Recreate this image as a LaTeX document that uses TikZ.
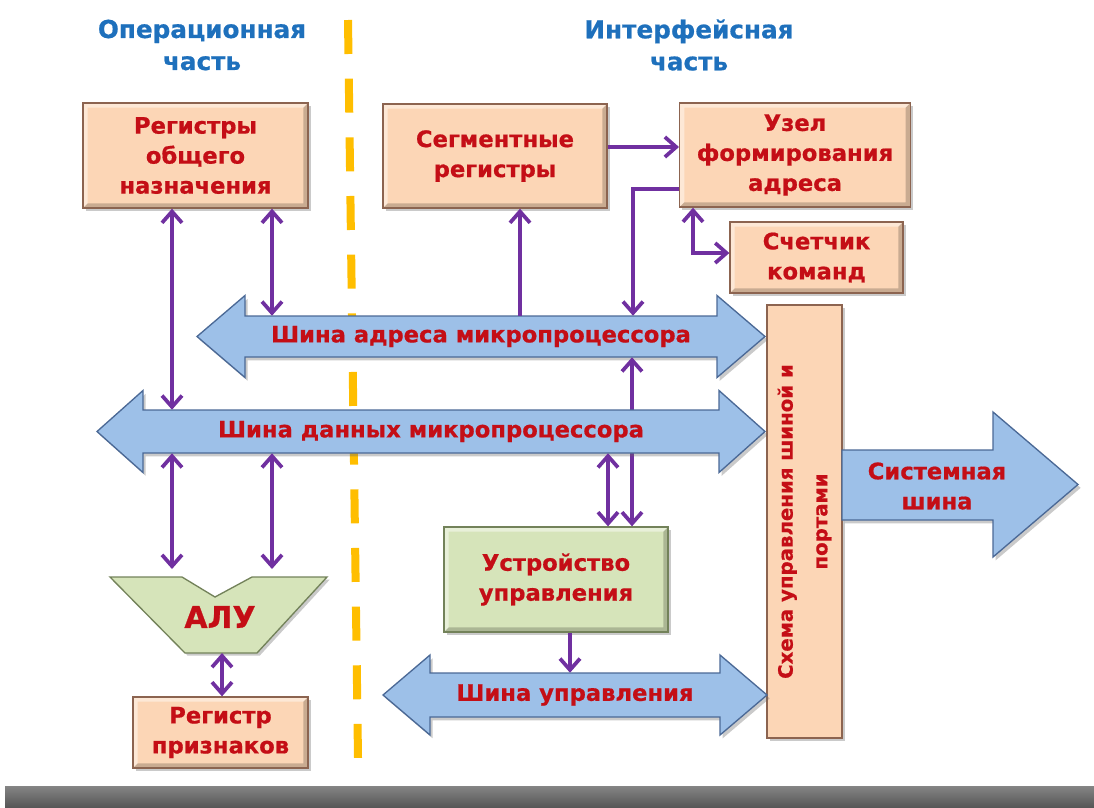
\documentclass[tikz,border=0pt]{standalone}
\usepackage{fontspec}
\setmainfont{DejaVu Sans}[BoldFeatures={FakeBold=0.7}]
\usetikzlibrary{arrows.meta,shadows}

\definecolor{peach}{RGB}{252,214,182}
\definecolor{peachedge}{RGB}{140,100,80}
\definecolor{sage}{RGB}{214,228,186}
\definecolor{sageedge}{RGB}{115,130,90}
\definecolor{redtext}{RGB}{196,14,22}
\definecolor{headblue}{RGB}{30,112,188}
\definecolor{busfill}{RGB}{157,192,232}
\definecolor{busedge}{RGB}{75,105,150}
\definecolor{linkpurple}{RGB}{112,48,160}
\definecolor{divider}{RGB}{255,190,0}

% double-headed bus: left tip x, right tip x, centre y, shaft half height, head half height, head length
\newcommand\dblbus[6]{%
  \path[bus] (#1,#3) -- ({#1+#6},{#3-#5}) -- ({#1+#6},{#3-#4}) -- ({#2-#6},{#3-#4})
    -- ({#2-#6},{#3-#5}) -- (#2,#3) -- ({#2-#6},{#3+#5}) -- ({#2-#6},{#3+#4})
    -- ({#1+#6},{#3+#4}) -- ({#1+#6},{#3+#5}) -- cycle;}

\tikzset{
  bevel/.style={path picture={
    \fill[white, opacity=0.45] (path picture bounding box.north west) -- (path picture bounding box.north east)
      -- ([xshift=-#1,yshift=-#1]path picture bounding box.north east) -- ([xshift=#1,yshift=-#1]path picture bounding box.north west)
      -- ([xshift=#1,yshift=#1]path picture bounding box.south west) -- (path picture bounding box.south west) -- cycle;
    \fill[black, opacity=0.2] (path picture bounding box.south east) -- (path picture bounding box.south west)
      -- ([xshift=#1,yshift=#1]path picture bounding box.south west) -- ([xshift=-#1,yshift=#1]path picture bounding box.south east)
      -- ([xshift=-#1,yshift=-#1]path picture bounding box.north east) -- (path picture bounding box.north east) -- cycle;}},
  txt/.style={text=redtext, font=\bfseries\fontsize{17}{22.5}\selectfont, align=center, inner sep=0pt},
  block/.style={txt, draw=peachedge, line width=1pt, fill=peach, bevel=3.5pt,
    drop shadow={shadow xshift=2pt, shadow yshift=-2pt, opacity=0.35, fill=black!60}},
  ctrlblock/.style={block, fill=sage, draw=sageedge},
  heading/.style={text=headblue, font=\bfseries\fontsize{18.5}{24}\selectfont, align=center, inner sep=0pt},
  bus/.style={fill=busfill, draw=busedge, line width=1pt, line join=miter,
    drop shadow={shadow xshift=2pt, shadow yshift=-2.5pt, opacity=0.35, fill=black!60}},
  buslabel/.style={txt, minimum height=#1},
  alushape/.style={fill=sage, draw=sageedge, line width=1pt, line join=miter,
    drop shadow={shadow xshift=2pt, shadow yshift=-2pt, opacity=0.35, fill=black!60}},
  link/.style={draw=linkpurple, line width=2.8pt},
  dividerline/.style={draw=divider, line width=6pt, dash pattern=on 25.5pt off 18.5pt},
}

\begin{document}
\begin{tikzpicture}[x=0.75pt, y=-0.75pt, >={Straight Barb[length=8.5pt,width=15pt]}]
\useasboundingbox (0,0) rectangle (1094,807);

% section headings and the divider between them
\node[heading] (hop) at (202,45) {Операционная\\часть};
\node[heading] (hif) at (689,45) {Интерфейсная\\часть};
\draw[dividerline] (348,20) -- (358,758);

% register and control blocks
\node[block, minimum width=168.75pt, minimum height=78.75pt] (rgo) at (195.5,155.5) {Регистры\\общего\\назначения};
\node[block, minimum width=168pt, minimum height=78pt] (seg) at (495,156) {Сегментные\\регистры};
\node[block, minimum width=173pt, minimum height=78pt] (uzel) at (795,155) {Узел\\формирования\\адреса};
\node[block, minimum width=129.75pt, minimum height=53.25pt] (sch) at (816.5,257.5) {Счетчик\\команд};
\node[block, minimum width=131.25pt, minimum height=53.25pt] (rp) at (220.5,732.5) {Регистр\\признаков};
\node[ctrlblock, minimum width=168pt, minimum height=78.75pt] (uu) at (556,579.5) {Устройство\\управления};
\node[block, bevel=0pt, rotate=90, minimum width=324.75pt, minimum height=56.25pt,
      font=\bfseries\fontsize{14.8}{26}\selectfont] (ctl) at (804.5,521.5) {Схема управления шиной и\\портами};

% address bus
\dblbus{197}{765}{336.5}{20.5}{41}{48}
\node[buslabel=30.75pt] (abus) at (481,336.5) {Шина адреса микропроцессора};

% address bus <-> control unit, passing behind the data bus
\draw[link,<->] (632,0 |- abus.south) -- (632,0 |- uu.north);

% data bus
\dblbus{97}{765}{431.5}{21.5}{41}{46}
\node[buslabel=32.25pt] (dbus) at (431,431.5) {Шина данных микропроцессора};

% control bus
\dblbus{383}{767}{695}{22}{40}{47}
\node[buslabel=33pt] (cbus) at (575,695) {Шина управления};

% system bus
\path[bus] (842,450) -- (993,450) -- (993,412) -- (1078,484.5) -- (993,557) -- (993,520) -- (842,520) -- cycle;
\node[txt] (sbus) at (937,486) {Системная\\шина};

% arithmetic logic unit
\path[alushape] (110,577) -- (182,577) -- (215,597) -- (252,577) -- (327,577) -- (257,653) -- (185,653) -- cycle;
\coordinate (alutop) at (110,577);
\coordinate (alubot) at (221,653);
\node[txt, font=\bfseries\fontsize{22.5}{26}\selectfont] (alu) at (220,617) {АЛУ};

% connections
\draw[link,<->] (172,0 |- rgo.south) -- (172,0 |- dbus.north);
\draw[link,<->] (272,0 |- rgo.south) -- (272,0 |- abus.north);
\draw[link,<->, shorten >=6pt] (172,0 |- dbus.south) -- (172,0 |- alutop);
\draw[link,<->, shorten >=6pt] (272,0 |- dbus.south) -- (272,0 |- alutop);
\draw[link,<->] (222,0 |- alubot) -- (222,0 |- rp.north);
\draw[link,->] (520,0 |- abus.north) -- (520,0 |- seg.south);
\draw[link,->] (seg.east |- 0,147) -- (uzel.west |- 0,147);
\draw[link,->] (uzel.west |- 0,189) -| (633,0 |- abus.north);
\draw[link,<->] (693,0 |- uzel.south) |- (sch.west |- 0,253);
\draw[link,<->] (608,0 |- dbus.south) -- (608,0 |- uu.north);
\draw[link,->] (570,0 |- uu.south) -- (570,0 |- cbus.north);

% shadow strip along the bottom
\shade[top color=black!48, bottom color=black!66] (5,786) rectangle (1094,807);
\end{tikzpicture}
\end{document}
